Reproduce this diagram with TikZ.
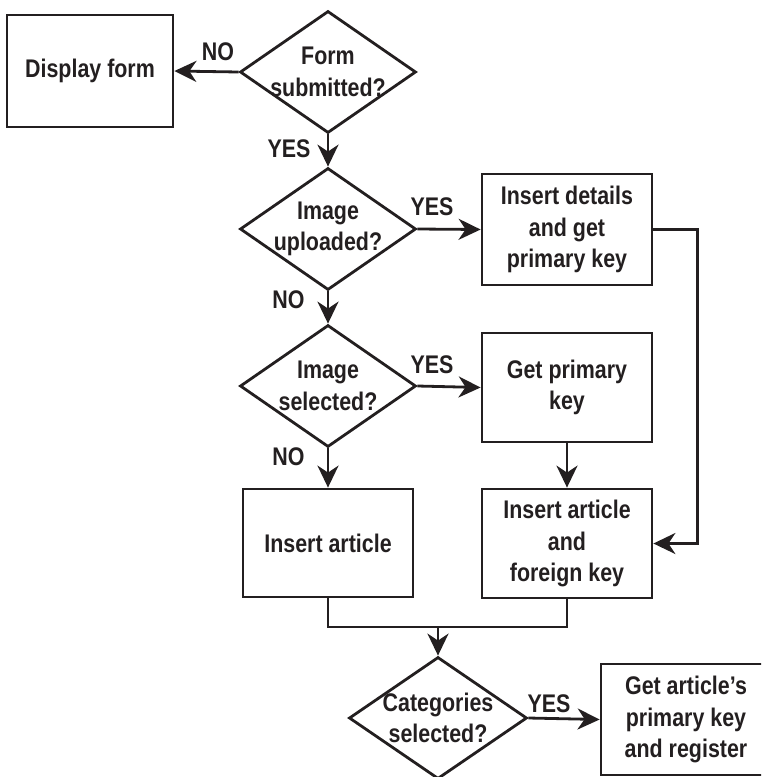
\documentclass[tikz,border=0pt]{standalone}
\usepackage{fontspec}
\newfontfamily\chartfont{Liberation Sans Bold}[FakeStretch=0.84]
\usetikzlibrary{arrows.meta,shapes.geometric}

\definecolor{ink}{RGB}{35,31,32}

\tikzset{
    krabice/.style={draw=ink, line width=2.8pt, minimum width=170pt,
        minimum height=110pt, align=center, inner sep=0pt},
    otazka/.style={draw=ink, diamond, line width=2.8pt, minimum width=176pt,
        minimum height=122pt, align=center, inner sep=-30pt},
    popis/.style={inner sep=0pt},
    sipka/.style={draw=ink, line width=2.8pt,
        -{Stealth[length=22pt, width=21pt, inset=7pt]}},
    cara/.style={draw=ink, line width=2.8pt}
}

\begin{document}
\begin{tikzpicture}[x=1pt, y=-1pt, font=\chartfont\fontsize{25.5}{31.5}\selectfont, text=ink]
            \useasboundingbox (0,0) rectangle (761,777);
            \clip (0,0) rectangle (761,777);

            % horni rada
            \node[krabice, minimum width=166pt, minimum height=112pt] (disp) at (90,71) {Display form};
            \node[otazka] (form) at (328,72) {Form\\submitted?};

            % nahrany obrazek
            \node[otazka] (imgup) at (328,229) {Image\\uploaded?};
            \node[krabice, minimum height=111pt] (insdet) at (567,229.5) {Insert details\\and get\\primary key};

            % vybrany obrazek
            \node[otazka] (imgsel) at (328,386) {Image\\selected?};
            \node[krabice, minimum height=109pt] (getpk) at (567,387.5) {Get primary\\key};

            % vlozeni clanku
            \node[krabice, minimum height=108pt] (insart) at (328,543) {Insert article};
            \node[krabice, minimum height=109pt] (insfk) at (567,543.5) {Insert article\\and\\foreign key};

            % kategorie
            \node[otazka, minimum width=178pt] (cat) at (438,718) {Categories\\selected?};
            \node[krabice, minimum height=111pt] (reg) at (686,719.5) {Get article’s\\primary key\\and register};

            % sipky
            \draw[sipka] (form.west) -- (disp.east);
            \draw[sipka] (form.south) -- (imgup.north);
            \draw[sipka] (imgup.east) -- (insdet.west);
            \draw[sipka] (imgup.south) -- (imgsel.north);
            \draw[sipka] (imgsel.east) -- (getpk.west);
            \draw[sipka] (imgsel.south) -- (insart.north);
            \draw[sipka] (getpk.south) -- (insfk.north);
            \draw[sipka] (insdet.east) -- ++(44,0) |- (insfk.east);

            % spojeni
            \coordinate (join) at (438,627);
            \draw[cara] (insart.south) |- (join) -| (insfk.south);
            \draw[sipka] (join) -- (cat.north);
            \draw[sipka] (cat.east) -- (reg.west);

            % popisky
            \node[popis] (no1) at (218,52) {NO};
            \node[popis] (yes1) at (289,148.5) {YES};
            \node[popis] (yes2) at (432,206.5) {YES};
            \node[popis] (no2) at (288.5,300) {NO};
            \node[popis] (yes3) at (432,365) {YES};
            \node[popis] (no3) at (288.5,456.5) {NO};
            \node[popis] (yes4) at (549,703.5) {YES};
        \end{tikzpicture}
\end{document}
